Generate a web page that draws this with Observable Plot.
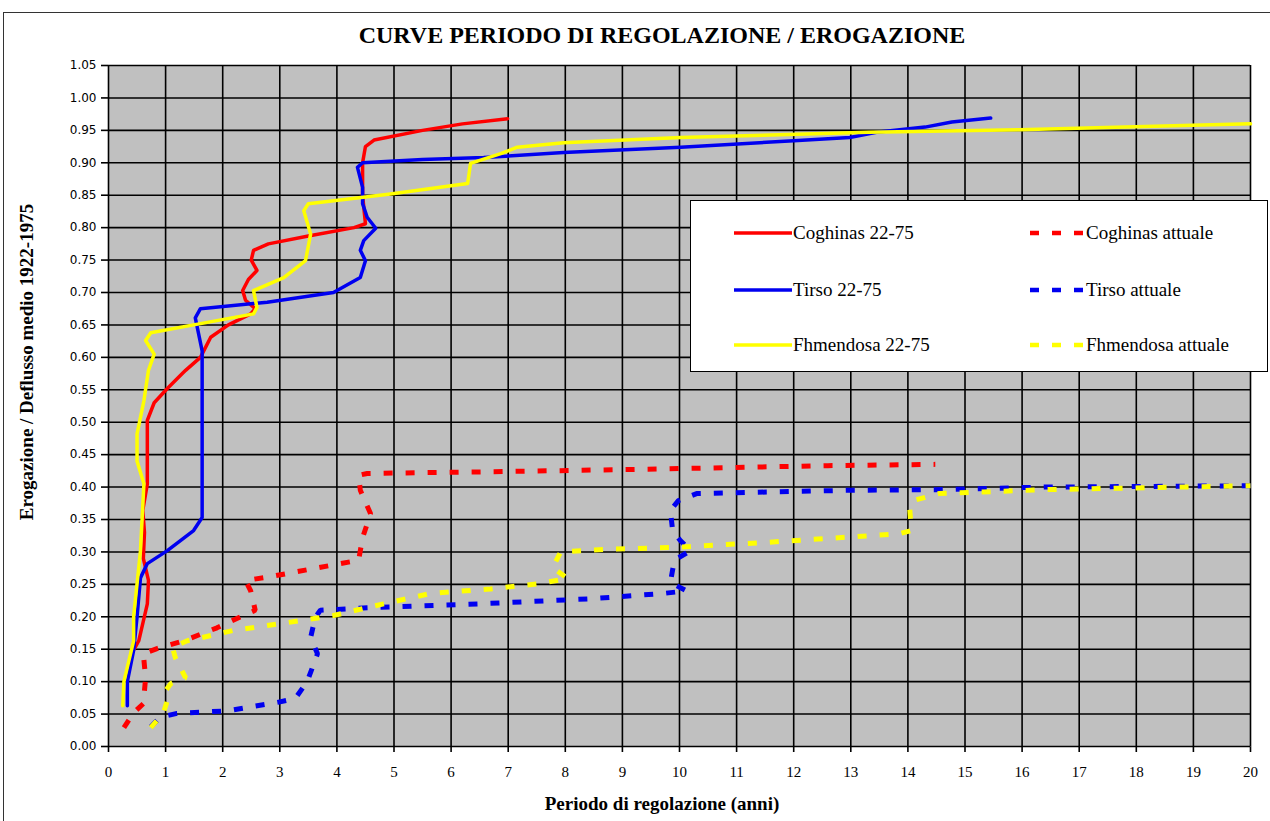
<!DOCTYPE html>
<html>
<head>
<meta charset="utf-8">
<script src="https://cdn.jsdelivr.net/npm/d3@7"></script>
<script src="https://cdn.jsdelivr.net/npm/@observablehq/plot@0.6"></script>
<style>
  html, body { margin: 0; padding: 0; background: #fff; }
  body { width: 1270px; height: 821px; overflow: hidden; position: relative; font-family: "Liberation Serif", "Times New Roman", serif; color: #000; }
  #frame { position: absolute; left: 3px; top: 12px; width: 1300px; height: 900px; border-left: 1.5px solid #333; border-top: 1.5px solid #333; box-sizing: border-box; }
  #chart { position: absolute; left: 0; top: 0; }
  #title { position: absolute; left: 0; width: 1324px; top: 23px; text-align: center; font-weight: bold; font-size: 24px; line-height: 24px; }
  #xtitle { position: absolute; left: 0; width: 1324px; top: 794px; text-align: center; font-weight: bold; font-size: 19px; line-height: 19px; }
  #ytitle { position: absolute; left: -173px; top: 351px; width: 400px; height: 22px; line-height: 22px; text-align: center; font-weight: bold; font-size: 19px; transform: rotate(-90deg); }
  #legend { position: absolute; left: 690px; top: 200px; width: 578px; height: 172px; box-sizing: border-box; border: 1.5px solid #000; background: #fff; }
  .item { position: absolute; height: 24px; display: flex; align-items: center; font-size: 19px; white-space: nowrap; }
  .item svg { display: block; }
</style>
</head>
<body>
<div id="frame"></div>
<div id="chart"></div>
<div id="title"></div>
<div id="xtitle"></div>
<div id="ytitle"></div>
<div id="legend"></div>
<script>
// ---- Data ----
const titleText = "CURVE PERIODO DI REGOLAZIONE / EROGAZIONE";
const xLabel = "Periodo di regolazione (anni)";
const yLabel = "Erogazione / Deflusso medio 1922-1975";
const xTicks = d3.range(0, 21);
const yTicks = [0.00,0.05,0.10,0.15,0.20,0.25,0.30,0.35,0.40,0.45,0.50,0.55,0.60,0.65,0.70,0.75,0.80,0.85,0.90,0.95,1.00,1.05];

const seriesNames = ["Coghinas 22-75","Tirso 22-75","Flumendosa 22-75","Coghinas attuale","Tirso attuale","Flumendosa attuale"];
const legendTexts = ["Coghinas 22-75","Tirso 22-75","Fhmendosa 22-75","Coghinas attuale","Tirso attuale","Fhmendosa attuale"];
const seriesColors = ["#ff0000","#0000f0","#ffff00","#ff0000","#0000f0","#ffff00"];

// Coghinas 22-75 (solid red)
const cogX = [0.45,0.53,0.68,0.70,0.61,0.63,0.60,0.68,0.68,0.80,1.03,1.35,1.61,1.79,2.10,2.49,2.57,2.40,2.35,2.45,2.60,2.50,2.54,2.80,3.50,4.30,4.50,4.45,4.45,4.50,4.65,5.50,6.20,6.99];
const cogY = [0.150,0.163,0.220,0.256,0.290,0.330,0.364,0.405,0.503,0.530,0.552,0.580,0.600,0.631,0.650,0.667,0.675,0.688,0.703,0.720,0.734,0.750,0.765,0.775,0.787,0.800,0.806,0.850,0.900,0.925,0.935,0.950,0.960,0.968];

// Tirso 22-75 (solid blue)
const tirX = [0.33,0.33,0.44,0.50,0.56,0.68,1.03,1.49,1.64,1.64,1.52,1.61,2.78,3.94,4.41,4.50,4.41,4.47,4.68,4.53,4.45,4.45,4.36,4.45,5.50,6.57,7.97,10.02,12.00,12.98,13.45,14.30,14.77,15.45];
const tirY = [0.063,0.100,0.148,0.200,0.260,0.282,0.302,0.333,0.353,0.610,0.661,0.675,0.685,0.700,0.723,0.749,0.765,0.780,0.799,0.816,0.837,0.862,0.893,0.900,0.905,0.908,0.916,0.924,0.934,0.939,0.947,0.955,0.963,0.969];

// Flumendosa 22-75 (solid yellow)
const fluX = [0.25,0.27,0.44,0.44,0.56,0.62,0.50,0.50,0.62,0.70,0.80,0.65,0.74,1.61,2.54,2.60,2.54,3.07,3.45,3.54,3.42,3.50,4.94,6.29,6.34,6.87,7.16,7.97,10.02,13.31,15.95,20.00];
const fluY = [0.063,0.100,0.163,0.200,0.302,0.405,0.440,0.482,0.533,0.580,0.605,0.626,0.638,0.652,0.667,0.677,0.703,0.723,0.749,0.790,0.826,0.837,0.852,0.868,0.899,0.914,0.924,0.931,0.939,0.947,0.951,0.960];

// Coghinas attuale (dashed red)
const cogAX = [0.27,0.44,0.61,0.65,0.61,0.85,1.32,1.90,2.31,2.57,2.49,2.40,2.78,4.06,4.38,4.45,4.59,4.41,4.38,4.53,6.99,9.70,12.60,14.48];
const cogAY = [0.029,0.052,0.066,0.106,0.143,0.151,0.163,0.183,0.200,0.210,0.240,0.256,0.261,0.282,0.287,0.322,0.359,0.395,0.418,0.421,0.424,0.428,0.433,0.435];

// Tirso attuale (dashed blue)
const tirAX = [0.74,0.90,1.20,2.08,2.96,3.27,3.48,3.66,3.54,3.62,3.71,4.53,6.51,8.49,9.72,10.12,9.84,9.91,10.19,10.01,9.88,9.84,9.98,10.30,12.96,14.48,16.40,20.00];
const tirAY = [0.030,0.045,0.051,0.055,0.068,0.074,0.100,0.143,0.168,0.199,0.210,0.214,0.220,0.228,0.236,0.240,0.253,0.287,0.302,0.318,0.333,0.364,0.379,0.390,0.395,0.396,0.400,0.402];

// Flumendosa attuale (dashed yellow)
const fluAX = [0.74,0.96,1.03,1.00,1.09,1.35,1.17,1.12,1.38,2.19,3.36,3.94,4.82,5.64,6.69,7.53,8.04,7.78,7.92,8.74,9.90,11.58,13.85,14.06,14.03,14.13,14.54,16.40,20.00];
const fluAY = [0.029,0.051,0.071,0.086,0.097,0.106,0.137,0.153,0.163,0.179,0.194,0.202,0.220,0.236,0.243,0.251,0.259,0.276,0.300,0.304,0.307,0.315,0.328,0.333,0.369,0.380,0.390,0.396,0.402];

// ---- Build ----
const pts = (xs, ys) => xs.map((x, i) => ({x, y: ys[i]}));
const solidW = 3.5, dashW = 5, dashPat = "9,13";

const plot = Plot.plot({
  width: 1270,
  height: 821,
  marginLeft: 108,
  marginRight: 20,
  marginTop: 65,
  marginBottom: 75,
  style: {background: "transparent", fontFamily: "'Liberation Serif', serif", fontSize: "15px", color: "#000"},
  x: {domain: [0, 20], ticks: xTicks, tickSize: 6, tickPadding: 14, tickFormat: d => String(d), label: null},
  y: {domain: [0, 1.05], ticks: yTicks, tickSize: 7, tickPadding: 5, tickFormat: d3.format(".2f"), label: null},
  marks: [
    Plot.frame({fill: "#c0c0c0", stroke: null}),
    Plot.ruleX(xTicks, {stroke: "#000", strokeWidth: 1.6}),
    Plot.ruleY(yTicks, {stroke: "#000", strokeWidth: 1.6}),
    Plot.line(pts(cogAX, cogAY), {x: "x", y: "y", stroke: seriesColors[3], strokeWidth: dashW, strokeDasharray: dashPat, strokeLinecap: "butt", strokeLinejoin: "miter"}),
    Plot.line(pts(tirAX, tirAY), {x: "x", y: "y", stroke: seriesColors[4], strokeWidth: dashW, strokeDasharray: dashPat, strokeLinecap: "butt", strokeLinejoin: "miter"}),
    Plot.line(pts(fluAX, fluAY), {x: "x", y: "y", stroke: seriesColors[5], strokeWidth: dashW, strokeDasharray: dashPat, strokeLinecap: "butt", strokeLinejoin: "miter"}),
    Plot.line(pts(cogX, cogY), {x: "x", y: "y", stroke: seriesColors[0], strokeWidth: solidW}),
    Plot.line(pts(tirX, tirY), {x: "x", y: "y", stroke: seriesColors[1], strokeWidth: solidW}),
    Plot.line(pts(fluX, fluY), {x: "x", y: "y", stroke: seriesColors[2], strokeWidth: solidW})
  ]
});
d3.select(plot).selectAll('[aria-label^="y-axis"] text')
  .style("font-family", "'DejaVu Sans', sans-serif").style("font-size", "12px");
d3.select(plot).selectAll('[aria-label^="x-axis"] line, [aria-label^="y-axis"] line, [aria-label^="x-axis"] path, [aria-label^="y-axis"] path')
  .attr("stroke", "#000").attr("stroke-width", 1.6);
document.getElementById("chart").appendChild(plot);

document.getElementById("title").textContent = titleText;
document.getElementById("xtitle").textContent = xLabel;
document.getElementById("ytitle").textContent = yLabel;

// Legend
const legend = document.getElementById("legend");
const rowsTop = [20, 77, 132];
seriesNames.forEach((name, i) => {
  const col = i < 3 ? 0 : 1;
  const row = i % 3;
  const item = document.createElement("div");
  item.className = "item";
  item.style.left = (col === 0 ? 43 : 339) + "px";
  item.style.top = rowsTop[row] + "px";
  const w = col === 0 ? 58 : 55;
  const dashed = col === 1;
  item.innerHTML = `<svg width="${w}" height="24"><line x1="0" x2="${w}" y1="12" y2="12" stroke="${seriesColors[i]}" stroke-width="${dashed ? 4.5 : 3.5}" ${dashed ? `stroke-dasharray="${dashPat}"` : ""}></line></svg><span style="margin-left:1px">${legendTexts[i]}</span>`;
  legend.appendChild(item);
});
</script>
</body>
</html>
